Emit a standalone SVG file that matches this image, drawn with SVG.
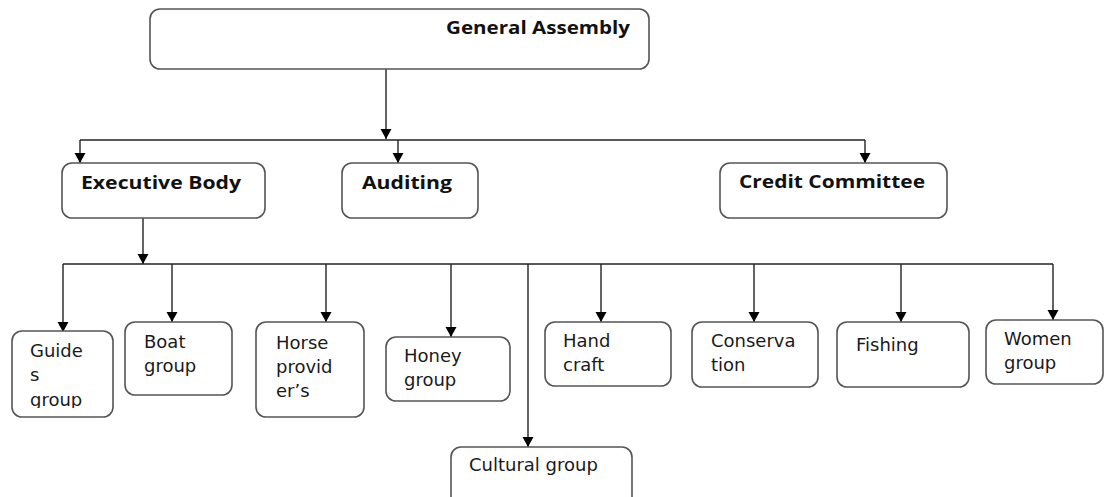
<svg xmlns="http://www.w3.org/2000/svg" width="1104" height="497" viewBox="0 0 1104 497">
<style>
.box{fill:#fff;stroke:#555;stroke-width:1.6}
.hd{font-family:"Open Sans","DejaVu Sans",sans-serif;font-weight:bold;font-size:17px;fill:#111}
.tx{font-family:"DejaVu Sans",sans-serif;font-size:18px;fill:#1a1a1a}
.ln{fill:none;stroke:#222;stroke-width:1.4}
.ar{marker-end:url(#arr)}
</style>
<defs>
<marker id="arr" markerUnits="userSpaceOnUse" markerWidth="12" markerHeight="12" viewBox="0 0 12 12" refX="10" refY="6" orient="auto">
<path d="M0,0.5 L10,6 L0,11.5 Z" fill="#000"/>
</marker>
<clipPath id="cg"><rect x="12" y="331" width="101" height="77"/></clipPath>
</defs>
<rect width="1104" height="497" fill="#fff"/>
<g id="connectors">
<path class="ln ar" d="M386 69 V139"/>
<path class="ln" d="M80 140 H865"/>
<path class="ln ar" d="M80 140 V163"/>
<path class="ln ar" d="M398 140 V163"/>
<path class="ln ar" d="M865 140 V163"/>
<path class="ln ar" d="M143 218 V264"/>
<path class="ln" d="M63 264 H1053"/>
<path class="ln ar" d="M63 264 V332"/>
<path class="ln ar" d="M172 264 V322"/>
<path class="ln ar" d="M326 264 V322"/>
<path class="ln ar" d="M451 264 V337"/>
<path class="ln ar" d="M528 264 V447"/>
<path class="ln ar" d="M601 264 V322"/>
<path class="ln ar" d="M754 264 V322"/>
<path class="ln ar" d="M901 264 V322"/>
<path class="ln ar" d="M1053 264 V320"/>
</g>
<g id="general-assembly"><rect class="box" x="150" y="9" width="499" height="60" rx="10"/><text class="hd" x="446" y="34" textLength="184" lengthAdjust="spacingAndGlyphs">General Assembly</text></g>
<g id="executive-body"><rect class="box" x="62" y="163" width="203" height="55" rx="10"/><text class="hd" x="81" y="189" textLength="160" lengthAdjust="spacingAndGlyphs">Executive Body</text></g>
<g id="auditing"><rect class="box" x="342" y="163" width="136" height="55" rx="10"/><text class="hd" x="362" y="189" textLength="90" lengthAdjust="spacingAndGlyphs">Auditing</text></g>
<g id="credit-committee"><rect class="box" x="720" y="163" width="227" height="55" rx="10"/><text class="hd" x="739" y="188" textLength="186" lengthAdjust="spacingAndGlyphs">Credit Committee</text></g>
<g id="guides-group"><rect class="box" x="12" y="331" width="101" height="86" rx="10"/><text class="tx" clip-path="url(#cg)"><tspan x="30" y="357">Guide</tspan><tspan x="30" y="381">s</tspan><tspan x="30" y="406">group</tspan></text></g>
<g id="boat-group"><rect class="box" x="125" y="322" width="107" height="73" rx="10"/><text class="tx"><tspan x="144" y="348">Boat</tspan><tspan x="144" y="372">group</tspan></text></g>
<g id="horse-providers"><rect class="box" x="256" y="322" width="108" height="95" rx="10"/><text class="tx"><tspan x="276" y="349">Horse</tspan><tspan x="276" y="373">provid</tspan><tspan x="276" y="397">er’s</tspan></text></g>
<g id="honey-group"><rect class="box" x="386" y="337" width="124" height="64" rx="10"/><text class="tx"><tspan x="404" y="362">Honey</tspan><tspan x="404" y="386">group</tspan></text></g>
<g id="cultural-group"><rect class="box" x="451" y="447" width="181" height="60" rx="10"/><text class="tx" x="469" y="471">Cultural group</text></g>
<g id="hand-craft"><rect class="box" x="545" y="322" width="126" height="64" rx="10"/><text class="tx"><tspan x="563" y="347">Hand</tspan><tspan x="563" y="371">craft</tspan></text></g>
<g id="conservation"><rect class="box" x="692" y="322" width="126" height="65" rx="10"/><text class="tx"><tspan x="711" y="347">Conserva</tspan><tspan x="711" y="371">tion</tspan></text></g>
<g id="fishing"><rect class="box" x="837" y="322" width="132" height="65" rx="10"/><text class="tx" x="856" y="351">Fishing</text></g>
<g id="women-group"><rect class="box" x="986" y="320" width="117" height="64" rx="10"/><text class="tx"><tspan x="1004" y="345">Women</tspan><tspan x="1004" y="369">group</tspan></text></g>
</svg>
